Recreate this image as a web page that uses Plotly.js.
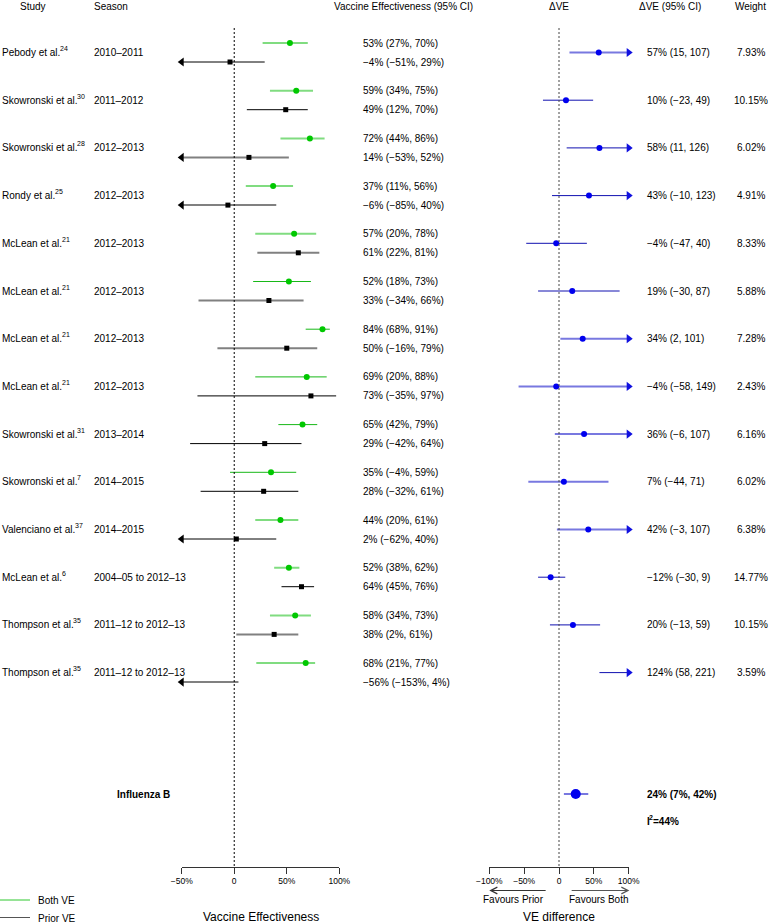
<!DOCTYPE html>
<html><head><meta charset="utf-8">
<script src="https://cdn.plot.ly/plotly-3.0.1.min.js"></script>
<style>html,body{margin:0;padding:0;background:#fff}#chart{width:772px;height:923px}</style>
</head><body><div id="chart"></div>
<script>
// ---------------- data ----------------
const studies = ['Pebody et al.', 'Skowronski et al.', 'Skowronski et al.', 'Rondy et al.', 'McLean et al.', 'McLean et al.', 'McLean et al.', 'McLean et al.', 'Skowronski et al.', 'Skowronski et al.', 'Valenciano et al.', 'McLean et al.', 'Thompson et al.', 'Thompson et al.'];
const refs = ['24', '30', '28', '25', '21', '21', '21', '21', '31', '7', '37', '6', '35', '35'];
const seasons = ['2010–2011', '2011–2012', '2012–2013', '2012–2013', '2012–2013', '2012–2013', '2012–2013', '2012–2013', '2013–2014', '2014–2015', '2014–2015', '2004–05 to 2012–13', '2011–12 to 2012–13', '2011–12 to 2012–13'];
const bothVE = [53, 59, 72, 37, 57, 52, 84, 69, 65, 35, 44, 52, 58, 68];
const bothLo = [27, 34, 44, 11, 20, 18, 68, 20, 42, -4, 20, 38, 34, 21];
const bothHi = [70, 75, 86, 56, 78, 73, 91, 88, 79, 59, 61, 62, 73, 77];
const priorVE = [-4, 49, 14, -6, 61, 33, 50, 73, 29, 28, 2, 64, 38, -56];
const priorLo = [-51, 12, -53, -85, 22, -34, -16, -35, -42, -32, -62, 45, 2, -153];
const priorHi = [29, 70, 52, 40, 81, 66, 79, 97, 64, 61, 40, 76, 61, 4];
const diffVE = [57, 10, 58, 43, -4, 19, 34, -4, 36, 7, 42, -12, 20, 124];
const diffLo = [15, -23, 11, -10, -47, -30, 2, -58, -6, -44, -3, -30, -13, 58];
const diffHi = [107, 49, 126, 123, 40, 87, 101, 149, 107, 71, 107, 9, 59, 221];
const weights = [7.93, 10.15, 6.02, 4.91, 8.33, 5.88, 7.28, 2.43, 6.16, 6.02, 6.38, 14.77, 10.15, 3.59];
const pooledLabel = 'Influenza B';
const pooledDiff = 24, pooledLo = 7, pooledHi = 42;
const i2 = 44;
const legendNames = ['Both VE', 'Prior VE'];
const veTicks = [-50, 0, 50, 100];
const veTickText = ['−50%', '0', '50%', '100%'];
const diffTicks = [-100, -50, 0, 50, 100];
const diffTickText = ['−100%', '−50%', '0', '50%', '100%'];

// rendering emphasis of each row's line (light & wide vs dark & thin)
const bothLight = [1,1,1,1,1,0,0,0,0,0,1,1,1,1];
const priorGray = [0,0,1,1,1,1,1,0,0,0,0,0,1,1];
const diffLight = [1,0,0,0,0,0,1,1,1,1,1,0,0,0];

// ---------------- layout helpers ----------------
const W = 772, H = 923;
const rowY = i => 52.5 + 47.7 * i;
const OFF = 9.5;
const veMin = -50, veMax = 100, dMin = -100, dMax = 100;
const axisY = 866.7;
const px = v => v / W;
const fmt = v => (v < 0 ? '−' + Math.abs(v) : String(v));
const FONT = 'Liberation Sans, Arial, Helvetica, sans-serif';
const ctx = document.createElement('canvas').getContext('2d');
function textWidth(s, size, bold) {
  ctx.font = (bold ? 'bold ' : '') + size + 'px "Liberation Sans", Arial, sans-serif';
  return ctx.measureText(s).width;
}

function segs(lo, hi, yOf, mask, want, mn, mx) {
  const xs = [], ys = [];
  lo.forEach((l, i) => {
    if ((mask[i] === 1) !== want) return;
    xs.push(Math.max(l, mn), Math.min(hi[i], mx), null);
    const y = yOf(i); ys.push(y, y, null);
  });
  return {x: xs, y: ys};
}
function pts(v, yOf, mn, mx) {
  const xs = [], ys = [];
  v.forEach((val, i) => { if (val >= mn && val <= mx) { xs.push(val); ys.push(yOf(i)); } });
  return {x: xs, y: ys};
}
const yBoth = i => rowY(i) - OFF, yPrior = i => rowY(i) + OFF, yDiff = i => rowY(i);

const traces = [];
function lineTrace(s, xa, color, width, name) {
  traces.push({type: 'scatter', mode: 'lines', x: s.x, y: s.y, xaxis: xa, yaxis: 'y',
    line: {color: color, width: width}, name: name || '', showlegend: false, hoverinfo: 'skip'});
}
// Left panel lines
lineTrace(segs(bothLo, bothHi, yBoth, bothLight, true, veMin, veMax), 'x', '#80dc80', 2, legendNames[0]);
lineTrace(segs(bothLo, bothHi, yBoth, bothLight, false, veMin, veMax), 'x', '#18b818', 1, legendNames[0]);
lineTrace(segs(priorLo, priorHi, yPrior, priorGray, true, veMin, veMax), 'x', '#808080', 2, legendNames[1]);
lineTrace(segs(priorLo, priorHi, yPrior, priorGray, false, veMin, veMax), 'x', '#000000', 1, legendNames[1]);
// Right panel lines
lineTrace(segs(diffLo, diffHi, yDiff, diffLight, true, dMin, dMax), 'x2', '#7878e0', 2, 'ΔVE');
lineTrace(segs(diffLo, diffHi, yDiff, diffLight, false, dMin, dMax), 'x2', '#1010b0', 1, 'ΔVE');
lineTrace({x: [pooledLo, pooledHi], y: [794, 794]}, 'x2', '#7878e0', 2, pooledLabel);

function markerTrace(p, xa, symbol, size, color) {
  traces.push({type: 'scatter', mode: 'markers', x: p.x, y: p.y, xaxis: xa, yaxis: 'y', cliponaxis: false,
    marker: {symbol: symbol, size: size, color: color, line: {width: 0}}, showlegend: false, hoverinfo: 'skip'});
}
markerTrace(pts(bothVE, yBoth, veMin, veMax), 'x', 'circle', 6, '#00c800');
markerTrace(pts(priorVE, yPrior, veMin, veMax), 'x', 'square', 5, '#000000');
markerTrace(pts(diffVE, yDiff, dMin, dMax), 'x2', 'circle', 6, '#0000ee');
markerTrace({x: [pooledDiff], y: [794]}, 'x2', 'circle', 10, '#0000ee');

// arrows where the CI runs past the axis
function arrowRows(lim, yOf, test) {
  const ys = [];
  lim.forEach((v, i) => { if (test(v)) ys.push(yOf(i)); });
  return ys;
}
(function(){
  const a = arrowRows(priorLo, yPrior, v => v < veMin);
  markerTrace({x: a.map(() => veMin), y: a}, 'x', 'triangle-left', 8, '#000000');
  const b = arrowRows(bothLo, yBoth, v => v < veMin);
  markerTrace({x: b.map(() => veMin), y: b}, 'x', 'triangle-left', 8, '#00c800');
  const c = arrowRows(diffHi, yDiff, v => v > dMax);
  markerTrace({x: c.map(() => dMax), y: c}, 'x2', 'triangle-right', 8, '#1010e0');
})();

// ---------------- annotations ----------------
const ann = [];
function txt(text, xPix, y, anchor, opts) {
  ann.push(Object.assign({text: text, xref: 'paper', x: px(xPix), yref: 'y', y: y, xanchor: anchor, yanchor: 'middle',
    showarrow: false, font: {family: FONT, size: 10, color: '#000'}}, opts || {}));
}
// label followed by a raised, smaller reference number
function supTxt(base, sup, xPix, y, bold) {
  const w = textWidth(base, 10, bold);
  txt(bold ? '<b>' + base + '</b>' : base, xPix, y, 'left');
  txt(bold ? '<b>' + sup + '</b>' : sup, xPix + w - 0.5, y - 4, 'left', {font: {family: FONT, size: 7, color: '#000'}});
}
// headers
const hy = 6;
txt('Study', 33, hy, 'center');
txt('Season', 111, hy, 'center');
txt('Vaccine Effectiveness (95% CI)', 403, hy, 'center');
txt('ΔVE', 559, hy, 'center');
txt('ΔVE (95% CI)', 670, hy, 'center');
txt('Weight', 750, hy, 'center');
studies.forEach((s, i) => {
  const y = rowY(i);
  supTxt(s, refs[i], 0, y, false);
  txt(seasons[i], 92, y, 'left');
  txt(fmt(bothVE[i]) + '% (' + fmt(bothLo[i]) + '%, ' + fmt(bothHi[i]) + '%)', 361, yBoth(i), 'left');
  txt(fmt(priorVE[i]) + '% (' + fmt(priorLo[i]) + '%, ' + fmt(priorHi[i]) + '%)', 361, yPrior(i), 'left');
  txt(fmt(diffVE[i]) + '% (' + fmt(diffLo[i]) + ', ' + fmt(diffHi[i]) + ')', 645, y, 'left');
  txt(weights[i].toFixed(2) + '%', 751, y, 'center');
});
txt('<b>' + pooledLabel + '</b>', 115, 794, 'left');
txt('<b>' + fmt(pooledDiff) + '% (' + fmt(pooledLo) + '%, ' + fmt(pooledHi) + '%)</b>', 645, 794, 'left');
(function(){
  const wI = textWidth('I', 10, true);
  txt('<b>I</b>', 645, 821, 'left');
  txt('<b>2</b>', 645 + wI - 0.5, 817, 'left', {font: {family: FONT, size: 7, color: '#000'}});
  const w2 = textWidth('2', 7, true);
  txt('<b>=' + i2 + '%</b>', 645 + wI + w2 - 1, 821, 'left');
})();
// axis titles
txt('Vaccine Effectiveness', 260.5, 917, 'center', {font: {family: FONT, size: 12, color: '#000'}});
txt('VE difference', 559, 917, 'center', {font: {family: FONT, size: 12, color: '#000'}});
txt('Favours Prior', 513, 899, 'center');
txt('Favours Both', 598, 899, 'center');
// legend labels
txt(legendNames[0], 36, 900, 'left');
txt(legendNames[1], 36, 918, 'left');
// direction arrows
ann.push({xref: 'x2', yref: 'y', x: -100, y: 890.5, axref: 'x2', ayref: 'y', ax: -17, ay: 890.5, text: '',
  showarrow: true, arrowhead: 5, arrowsize: 1.3, arrowwidth: 1, arrowcolor: '#333'});
ann.push({xref: 'x2', yref: 'y', x: 101, y: 890.5, axref: 'x2', ayref: 'y', ax: 16, ay: 890.5, text: '',
  showarrow: true, arrowhead: 5, arrowsize: 1.3, arrowwidth: 1, arrowcolor: '#555'});

// zero reference lines and legend keys
const shapes = [
  {type: 'line', xref: 'x', yref: 'y', x0: 0, x1: 0, y0: 28, y1: axisY, line: {color: '#000', width: 1, dash: '2px,2px'}},
  {type: 'line', xref: 'x2', yref: 'y', x0: 0, x1: 0, y0: 28, y1: axisY, line: {color: '#444', width: 1, dash: '2px,2px'}},
  {type: 'line', xref: 'paper', yref: 'y', x0: 0, x1: px(30), y0: 900, y1: 900, line: {color: '#2ec82e', width: 1}},
  {type: 'line', xref: 'paper', yref: 'y', x0: 0, x1: px(30), y0: 917.5, y1: 917.5, line: {color: '#555', width: 1}}
];

const axBase = {anchor: 'free', position: 1 - axisY / H, showgrid: false, zeroline: false, showline: true,
  linecolor: '#333', linewidth: 1, ticks: 'outside', ticklen: 6, tickcolor: '#333', tickwidth: 1,
  tickfont: {family: FONT, size: 8.5, color: '#000'}, fixedrange: true};

const layout = {
  width: W, height: H, margin: {l: 0, r: 0, t: 0, b: 0}, paper_bgcolor: '#fff', plot_bgcolor: 'rgba(0,0,0,0)',
  font: {family: FONT, size: 10, color: '#000'},
  xaxis: Object.assign({}, axBase, {domain: [px(181.7), px(339.3)], range: [veMin, veMax], tickvals: veTicks, ticktext: veTickText}),
  xaxis2: Object.assign({}, axBase, {domain: [px(489.3), px(628.7)], range: [dMin, dMax], tickvals: diffTicks, ticktext: diffTickText}),
  yaxis: {domain: [0, 1], range: [H, 0], visible: false, fixedrange: true},
  showlegend: false,
  annotations: ann, shapes: shapes
};
Plotly.newPlot('chart', traces, layout, {displayModeBar: false, staticPlot: true});
</script></body></html>
